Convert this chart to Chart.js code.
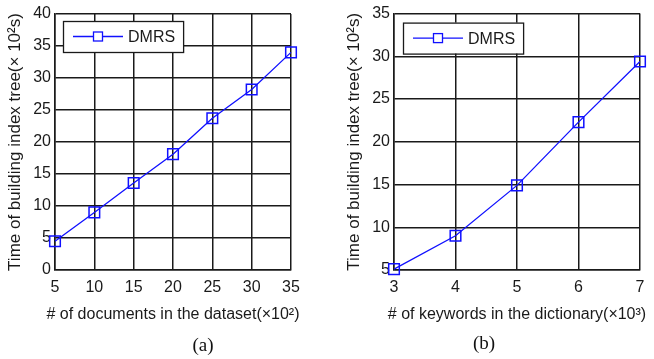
<!DOCTYPE html>
<html lang="en">
<head>
    <meta charset="UTF-8">
    <title>Index tree build time</title>
    <style>
        body {
            margin: 0;
            background-color: #fff;
        }

        .figure {
            position: relative;
            width: 654px;
            height: 359px;
            overflow: hidden;
        }

        .panel {
            position: absolute;
            top: 0;
            width: 327px;
            height: 359px;
        }

        .caption {
            position: absolute;
            font-family: "Liberation Serif", "DejaVu Serif", serif;
            font-size: 19px;
            color: #111;
            transform: translate(-50%, -50%);
        }
    </style>
    <script src="https://cdn.jsdelivr.net/npm/chart.js"></script>
</head>
<body>

    <div class="figure">
        <div class="panel" style="left:0"><canvas id="chartA" width="327" height="359"></canvas></div>
        <div class="panel" style="left:327px"><canvas id="chartB" width="327" height="359"></canvas></div>
        <div class="caption" style="left:203px; top:345px">(a)</div>
        <div class="caption" style="left:484px; top:343px">(b)</div>
    </div>

    <script>
        // (a) number of documents (x10^2) vs build time (x10^2 s)
        var docCounts = [5, 10, 15, 20, 25, 30, 35];
        var docTimes = [4.5, 9.0, 13.6, 18.1, 23.7, 28.2, 34.0];

        // (b) number of keywords (x10^3) vs build time (x10^2 s)
        var keywordCounts = [3, 4, 5, 6, 7];
        var keywordTimes = [5.1, 9.0, 14.9, 22.3, 29.4];

        var seriesLabel = 'DMRS';
        var yTitle = 'Time of building index tree(\u00d7 10\u00b2s)';

        var FONT = 'Liberation Sans, Arial, sans-serif';
        var BLUE = '#1010ff';
        var INK = '#1a1a1a';

        // MATLAB-style boxed legend in the upper-left corner of the plot
        var boxLegend = {
            id: 'boxLegend',
            afterDatasetsDraw: function (chart, args, opts) {
                var ctx = chart.ctx;
                var area = chart.chartArea;
                var ds = chart.data.datasets[0];
                ctx.save();
                ctx.font = '16px ' + FONT;
                var textW = ctx.measureText(ds.label).width;
                var x = area.left + opts.dx;
                var y = area.top + opts.dy;
                var w = 10 + opts.lineLen + 5 + textW + 8;
                var h = 31;
                ctx.fillStyle = '#fff';
                ctx.fillRect(x, y, w, h);
                ctx.strokeStyle = INK;
                ctx.lineWidth = 1.3;
                ctx.strokeRect(x + 0.5, y + 0.5, w, h);
                var my = y + h / 2;
                ctx.strokeStyle = BLUE;
                ctx.lineWidth = 1.3;
                ctx.beginPath();
                ctx.moveTo(x + 10, my);
                ctx.lineTo(x + 10 + opts.lineLen, my);
                ctx.stroke();
                var cx = x + 10 + opts.lineLen / 2;
                ctx.fillStyle = '#fff';
                ctx.fillRect(cx - 4.5, my - 4.5, 9, 9);
                ctx.strokeRect(cx - 4.5, my - 4.5, 9, 9);
                ctx.fillStyle = INK;
                ctx.textBaseline = 'middle';
                ctx.fillText(ds.label, x + 10 + opts.lineLen + 5, my + 1);
                ctx.restore();
            }
        };

        // x axis title, drawn without the scale's maxWidth squeeze
        var wideXTitle = {
            id: 'wideXTitle',
            afterDraw: function (chart, args, opts) {
                var ctx = chart.ctx;
                var area = chart.chartArea;
                ctx.save();
                ctx.font = '16px ' + FONT;
                ctx.fillStyle = INK;
                ctx.textAlign = 'center';
                ctx.textBaseline = 'middle';
                ctx.fillText(opts.text, (area.left + area.right) / 2, opts.y);
                ctx.restore();
            }
        };

        function makeChart(id, xs, ys, cfg) {
            var points = xs.map(function (x, i) { return { x: x, y: ys[i] }; });
            var ctx = document.getElementById(id).getContext('2d');
            return new Chart(ctx, {
                type: 'line',
                data: {
                    datasets: [{
                        label: seriesLabel,
                        data: points,
                        borderColor: BLUE,
                        borderWidth: 1.3,
                        pointStyle: 'rect',
                        pointRadius: 7.5,
                        pointBorderWidth: 1.5,
                        pointBorderColor: BLUE,
                        pointBackgroundColor: 'rgba(0,0,0,0)',
                        fill: false,
                        tension: 0,
                        clip: false
                    }]
                },
                options: {
                    responsive: false,
                    animation: false,
                    layout: {
                        padding: { left: cfg.padLeft, top: cfg.padTop, right: cfg.padRight, bottom: 34 }
                    },
                    plugins: {
                        legend: { display: false },
                        tooltip: { enabled: false },
                        boxLegend: { dx: cfg.legendDx, dy: cfg.legendDy, lineLen: 50 },
                        wideXTitle: { text: cfg.xTitle, y: 315 }
                    },
                    scales: {
                        x: {
                            type: 'linear',
                            min: cfg.xMin,
                            max: cfg.xMax,
                            afterFit: function (scale) { scale.height = 55; },
                            ticks: { stepSize: cfg.xStep, padding: 8, color: INK, font: { family: FONT, size: 16 } },
                            grid: { color: INK, lineWidth: 1.5, drawTicks: false },
                            border: { color: INK, width: 1.5 }
                        },
                        y: {
                            min: cfg.yMin,
                            max: cfg.yMax,
                            afterFit: function (scale) { scale.width = cfg.yWidth; },
                            ticks: { stepSize: 5, padding: 4, color: INK, font: { family: FONT, size: 16 } },
                            grid: { color: INK, lineWidth: 1.5, drawTicks: false },
                            border: { color: INK, width: 1.5 },
                            title: {
                                display: true,
                                text: yTitle,
                                color: INK,
                                padding: 0,
                                font: { family: FONT, size: 17 }
                            }
                        }
                    }
                },
                plugins: [boxLegend, wideXTitle]
            });
        }

        makeChart('chartA', docCounts, docTimes, {
            xMin: 5, xMax: 35, xStep: 5, yMin: 0, yMax: 40,
            xTitle: '# of documents in the dataset(\u00d710\u00b2)',
            padLeft: 5, padTop: 14, padRight: 36, yWidth: 50,
            legendDx: 8, legendDy: 7
        });

        makeChart('chartB', keywordCounts, keywordTimes, {
            xMin: 3, xMax: 7, xStep: 1, yMin: 5, yMax: 35,
            xTitle: '# of keywords in the dictionary(\u00d710\u00b3)',
            padLeft: 17, padTop: 13, padRight: 14, yWidth: 50,
            legendDx: 9, legendDy: 9
        });
    </script>

</body>
</html>
